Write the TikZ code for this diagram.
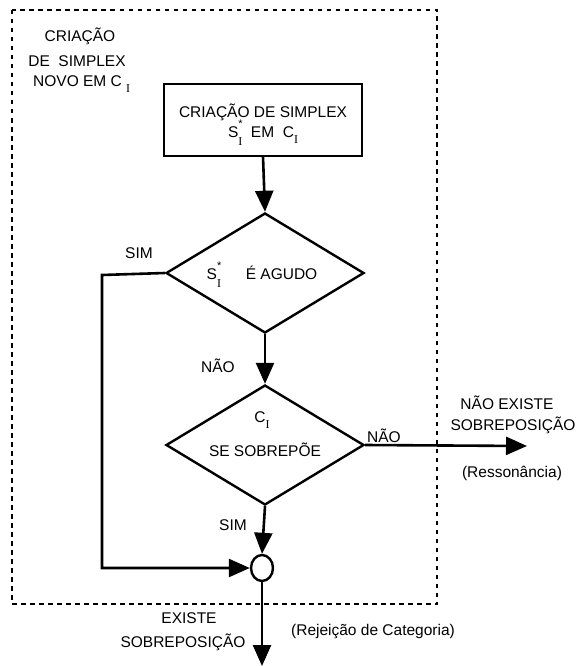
\documentclass[tikz,border=0pt]{standalone}
\usepackage{fontspec}
\setmainfont{Liberation Sans}
\newfontfamily\subfont{Liberation Serif}
\usetikzlibrary{arrows.meta,shapes.geometric}
\newcommand{\subI}{\raisebox{-0.4em}{{\subfont\fontsize{12}{12}\selectfont I}}}
\newcommand{\SstarI}{S\makebox[0pt][l]{\raisebox{0.62em}{\fontsize{11}{11}\selectfont *}}\raisebox{-0.55em}{{\subfont\fontsize{12}{12}\selectfont I}}}
\begin{document}
\begin{tikzpicture}[x=1pt,y=-1pt,
  txt/.style={inner sep=0pt,font=\fontsize{15.5}{18}\selectfont},
  flow/.style={line width=2.6pt,-{Triangle[length=21pt,width=18pt]}},
  decision/.style={draw,diamond,line width=2.4pt,minimum width=198pt,minimum height=120pt,inner sep=0pt,aspect=1.65},
  junction/.style={draw,ellipse,line width=2.4pt,minimum width=22pt,minimum height=26pt,inner sep=0pt},
  procbox/.style={draw,line width=2pt,minimum width=198pt,minimum height=71pt,inner sep=0pt}]
\useasboundingbox (0,0) rectangle (579,666);
% dashed frame
\draw[line width=2.2pt,dash pattern=on 4.5pt off 4.5pt] (12,10) rectangle (437,604);
% top-left label
\node[txt] (t1) at (80,36) {CRIAÇÃO};
\node[txt] (t2) at (77,61) {DE\ \ SIMPLEX};
\node[txt,anchor=west] (t3) at (33,84) {NOVO EM C\ \subI};
% process box
\node[procbox] (box) at (263,120) {};
\node[txt] (b1) at (263,112) {CRIAÇÃO DE SIMPLEX};
\node[txt] (b2) at (263,133) {\SstarI\ \ EM\ \ C\subI};
% decisions
\node[decision] (d1) at (265,273) {};
\node[txt] (d1t) at (262,275) {\SstarI\hspace{1.6em}É AGUDO};
\node[decision] (d2) at (265,445) {};
\node[txt] (d2a) at (262,420) {C\subI};
\node[txt] (d2b) at (265,450) {SE SOBREPÕE};
% junction
\node[junction] (j) at (262,568) {};
% ends
\coordinate (rend) at (527,446);
\coordinate (bend) at (262,666);
\coordinate (lc) at (102,275);
% connectors
\draw[flow] (box.south) -- (d1.north);
\draw[flow] (d1.south) -- (d2.north);
\draw[flow] (d2.east) -- (rend);
\draw[flow] (d1.west) -- (lc) |- (j.west);
\draw[flow] (d2.south) -- (j.north);
\draw[flow] (j.south) -- (bend);
% labels
\node[txt] (l1) at (139,253) {SIM};
\node[txt] (l2) at (218,366) {NÃO};
\node[txt] (l3) at (384,436) {NÃO};
\node[txt] (l4) at (233,525) {SIM};
\node[txt] (l5) at (507,403) {NÃO EXISTE};
\node[txt] (l6) at (513,425) {SOBREPOSIÇÃO};
\node[txt] (l7) at (512,473) {(Ressonância)};
\node[txt] (l8) at (189,618) {EXISTE};
\node[txt] (l9) at (183,642) {SOBREPOSIÇÃO};
\node[txt] (l10) at (373,632) {(Rejeição de Categoria)};
\end{tikzpicture}
\end{document}
